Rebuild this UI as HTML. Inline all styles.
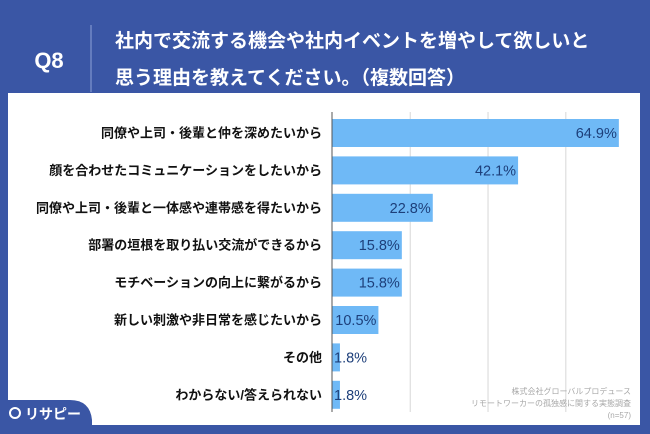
<!DOCTYPE html>
<html><head><meta charset="utf-8">
<style>
body{margin:0;width:650px;height:434px;background:#3a56a5;overflow:hidden;font-family:"Liberation Sans","Noto Sans CJK JP",sans-serif;}
svg{display:block}
</style></head><body>
<svg width="650" height="434">
<rect x="0" y="0" width="650" height="434" fill="#3a56a5"/>
<text x="49" y="68" fill="#fff" font-size="22" font-weight="bold" text-anchor="middle">Q8</text>
<line x1="91" y1="25" x2="91" y2="92" stroke="#8fa2d6" stroke-width="1"/>
<text x="115" y="47" fill="#fff" font-size="19" font-weight="bold">社内で交流する機会や社内イベントを増やして欲しいと</text>
<text x="115" y="84" fill="#fff" font-size="19" font-weight="bold">思う理由を教えてください。（複数回答）</text>
<rect x="8" y="93" width="632" height="332" fill="#fff"/>
<g id="plot"></g>
<text x="631" y="394" fill="#a8a8a8" font-size="8" text-anchor="end">株式会社グローバルプロデュース</text>
<text x="631" y="406" fill="#a8a8a8" font-size="8" text-anchor="end">リモートワーカーの孤独感に関する実態調査</text>
<text x="631" y="418" fill="#a8a8a8" font-size="8" text-anchor="end">(n=57)</text>
<path d="M0 434 L0 400 L70 400 Q90 400 92 420 L92 434 Z" fill="#3a56a5"/>
<circle cx="15" cy="413" r="5" fill="none" stroke="#fff" stroke-width="2"/>
<text x="25" y="419" fill="#fff" font-size="14" font-weight="bold">リサピー</text>
</svg>
<script>
const categories=["同僚や上司・後輩と仲を深めたいから","顔を合わせたコミュニケーションをしたいから","同僚や上司・後輩と一体感や連帯感を得たいから","部署の垣根を取り払い交流ができるから","モチベーションの向上に繋がるから","新しい刺激や非日常を感じたいから","その他","わからない/答えられない"];
const values=[64.9,42.1,22.8,15.8,15.8,10.5,1.8,1.8];
const gridValues=[17.7,35.3,52.9];
const NS="http://www.w3.org/2000/svg";
const g=document.getElementById('plot');
const x0=332,pxPer=4.42,y0=133,step=37.4,bh=28;
const xs=v=>x0+v*pxPer;
const ys=i=>y0+i*step;
function mk(t,a){const e=document.createElementNS(NS,t);for(const k in a)e.setAttribute(k,a[k]);g.appendChild(e);return e;}
gridValues.forEach(v=>{
 const l=mk('line',{x1:xs(v),x2:xs(v),y1:112,y2:412,stroke:'#d8d8d8','stroke-width':1});
 
 
});
categories.forEach((c,i)=>{
 const y=ys(i),v=values[i];
 const r=mk('rect',{x:x0,y:y-bh/2,width:xs(v)-x0,height:bh,fill:'#6fb9f6'});
 
 
 const lab=mk('text',{x:322,y:y+4.5,'text-anchor':'end','font-size':13,'font-weight':'bold',fill:'#111'});
 lab.textContent=c;
 
 
 const small=v<5;
 const vt=mk('text',{x:small?x0+2:xs(v)-2,y:y+5,'text-anchor':small?'start':'end','font-size':14.5,fill:'#1d3f7a'});
 vt.textContent=v.toFixed(1)+'%';
 
 
});
const ax=mk('line',{x1:x0,x2:x0,y1:112,y2:412,stroke:'#555','stroke-width':1});


</script>
</body></html>
